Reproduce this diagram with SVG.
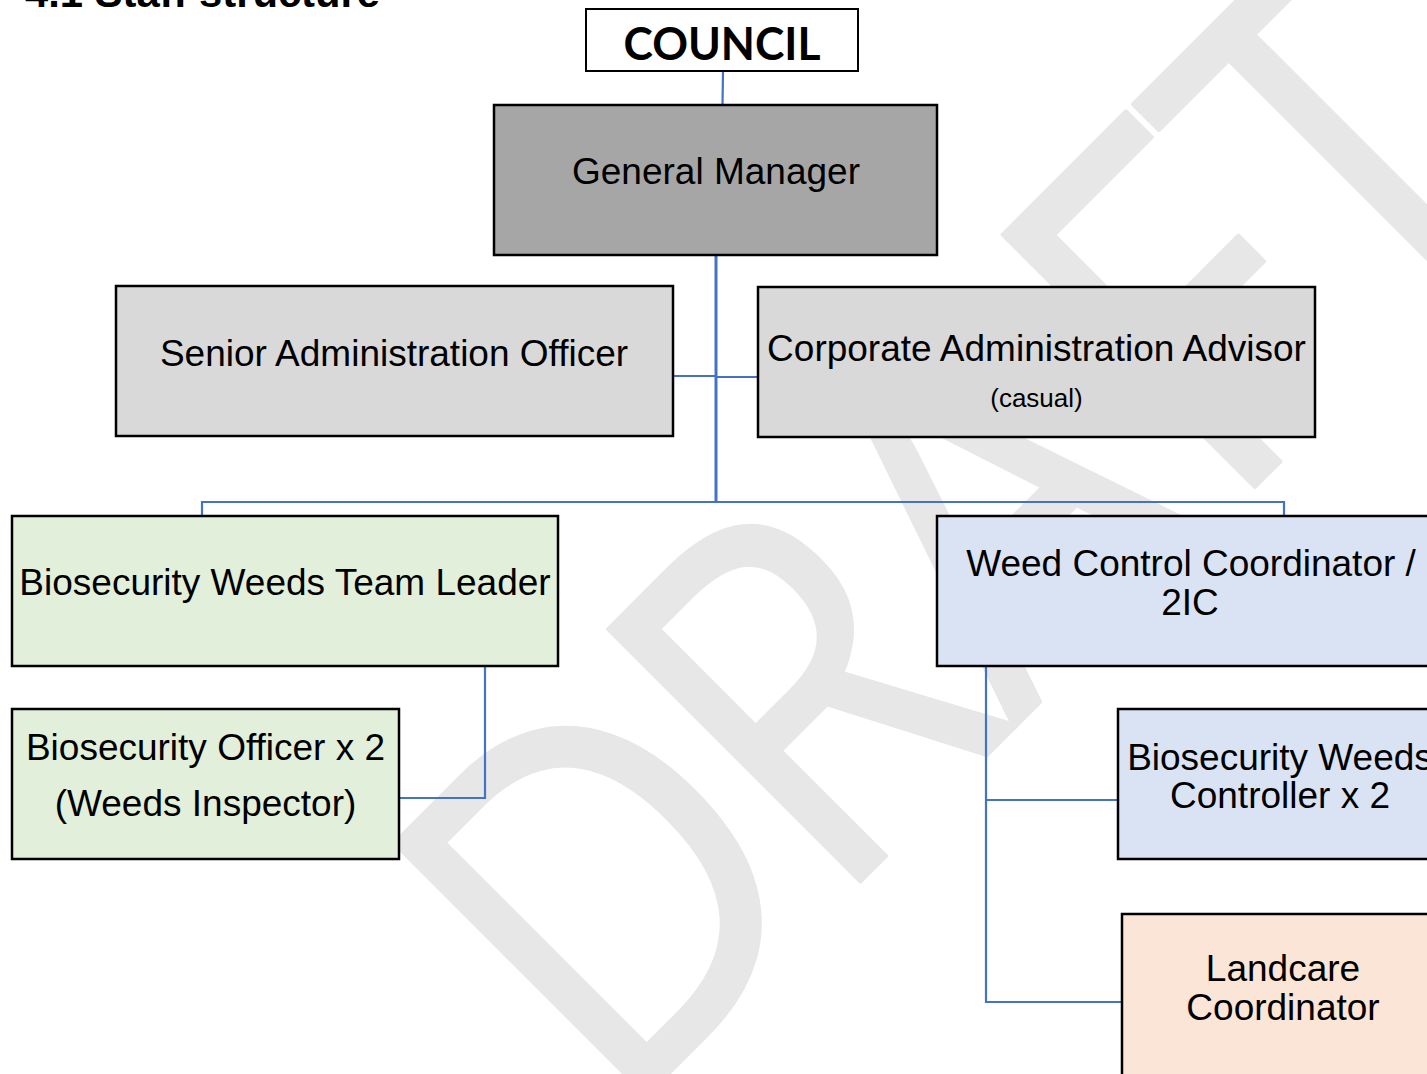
<svg xmlns="http://www.w3.org/2000/svg" width="1427" height="1074" viewBox="0 0 1427 1074">
<style>
.box{stroke:#000;stroke-width:2.5}
.t{font-family:"Liberation Sans",Arial,sans-serif;font-size:37px;fill:#000;text-anchor:middle}
.c{fill:none;stroke:#4472c4;stroke-width:2.2}
</style>
<rect x="0" y="0" width="1427" height="1074" fill="#fff"/>
<g id="watermark" transform="translate(871,871) rotate(-45) scale(0.88,1)">
<text x="-410 -66 230 568 822" y="0" font-family="'Open Sans',sans-serif" font-size="500" fill="#e7e7e7" stroke="#e7e7e7" stroke-width="4" stroke-linejoin="round">DRAFT</text>
</g>
<text id="title" x="25" y="7" font-family="'Liberation Sans',Arial,sans-serif" font-weight="bold" font-size="40" textLength="355" lengthAdjust="spacingAndGlyphs">4.1 Staff structure</text>
<g id="connectors">
<line class="c" x1="723" y1="71" x2="722.5" y2="105"/>
<line class="c" x1="716" y1="255" x2="716" y2="502" style="stroke-width:3"/>
<line class="c" x1="673" y1="376" x2="716" y2="376"/>
<line class="c" x1="716" y1="377" x2="758" y2="377"/>
<polyline class="c" points="202,516 202,502 1284,502 1284,516"/>
<polyline class="c" points="485,666 485,798 399,798"/>
<polyline class="c" points="986,666 986,1002 1122,1002"/>
<line class="c" x1="986" y1="800" x2="1118" y2="800"/>
</g>
<g id="council">
<rect class="box" x="586" y="9" width="272" height="62" fill="#fff" style="stroke-width:2"/>
<text x="722" y="60" font-family="Lato,sans-serif" font-weight="bold" font-size="46" text-anchor="middle" textLength="197" lengthAdjust="spacingAndGlyphs">COUNCIL</text>
</g>
<g id="general-manager">
<rect class="box" x="494" y="105" width="443" height="150" fill="#a6a6a6"/>
<text class="t" x="716" y="184">General Manager</text>
</g>
<g id="senior-admin">
<rect class="box" x="116" y="286" width="557" height="150" fill="#d9d9d9"/>
<text class="t" x="394" y="366">Senior Administration Officer</text>
</g>
<g id="corporate-admin">
<rect class="box" x="758" y="287" width="557" height="150" fill="#d9d9d9"/>
<text class="t" x="1036.5" y="361">Corporate Administration Advisor</text>
<text class="t" x="1036.5" y="407" style="font-size:26px">(casual)</text>
</g>
<g id="team-leader">
<rect class="box" x="12" y="516" width="546" height="150" fill="#e2efda"/>
<text class="t" x="285" y="595">Biosecurity Weeds Team Leader</text>
</g>
<g id="weed-control-coordinator">
<rect class="box" x="937" y="516" width="506" height="150" fill="#dae3f3"/>
<text class="t" x="1191" y="576">Weed Control Coordinator /</text>
<text class="t" x="1190" y="615">2IC</text>
</g>
<g id="biosecurity-officer">
<rect class="box" x="12" y="709" width="387" height="150" fill="#e2efda"/>
<text class="t" x="205.5" y="760">Biosecurity Officer x 2</text>
<text class="t" x="205.5" y="816">(Weeds Inspector)</text>
</g>
<g id="weeds-controller">
<rect class="box" x="1118" y="709" width="324" height="150" fill="#dae3f3"/>
<text class="t" x="1280" y="770">Biosecurity Weeds</text>
<text class="t" x="1280" y="808">Controller x 2</text>
</g>
<g id="landcare">
<rect class="box" x="1122" y="914" width="322" height="170" fill="#fbe5d6"/>
<text class="t" x="1283" y="981">Landcare</text>
<text class="t" x="1283" y="1020">Coordinator</text>
</g>
</svg>
